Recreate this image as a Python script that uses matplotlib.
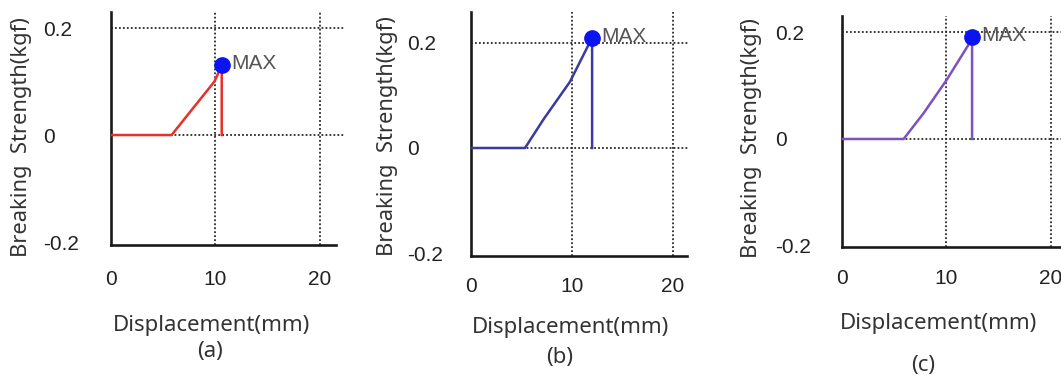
import matplotlib
matplotlib.use('Agg')
import matplotlib.pyplot as plt

# data
a_x = [0, 5.8, 9.9, 10.6, 10.6]
a_y = [0, 0, 0.1, 0.13, 0]
b_x = [0, 5.35, 7.2, 9.8, 12.0, 12.0]
b_y = [0, 0, 0.055, 0.126, 0.21, 0]
c_x = [0, 5.9, 7.8, 10.0, 12.1, 12.45, 12.45]
c_y = [0, 0, 0.048, 0.11, 0.176, 0.19, 0]
max_x = [10.6, 12.0, 12.4]
max_y = [0.13, 0.21, 0.19]
xticks = [0, 10, 20]
yticks = [-0.2, 0, 0.2]
ytick_labels = ['-0.2', '0', '0.2']
names = ['(a)', '(b)', '(c)']
colors = ['#e8302a', '#3a3aa0', '#7b52c0']

W, H = 1061, 376
fig = plt.figure(figsize=(W / 100, H / 100), dpi=100)

# pixel boxes: left, right, top, bottom, and axis limits
boxes = [(111, 345, 12, 245), (471, 688, 12, 256), (842, 1061, 16, 247)]
lims = [((0, 22.4), (-0.2056, 0.23)), ((0, 21.5), (-0.2057, 0.259)), ((0, 20.96), (-0.202, 0.23))]
spine_end = [21.5, 21.4, 21.0]
xpad = [18, 15, 15.5]
ylab_x = [22, 388, 752]
ylab_y = [137, 136, 138]
xlab_y = [326, 327, 323]
sub_x = [210, 560, 923]
sub_y = [352, 357, 366]
ytl_pad = [49, 46, 48]
lines = [(a_x, a_y), (b_x, b_y), (c_x, c_y)]

for i in range(3):
    l, r, t, b = boxes[i]
    ax = fig.add_axes([l / W, (H - b) / H, (r - l) / W, (b - t) / H])
    ax.set_xlim(*lims[i][0])
    ax.set_ylim(*lims[i][1])
    for s in ['top', 'right']:
        ax.spines[s].set_visible(False)
    for s in ['left', 'bottom']:
        ax.spines[s].set_linewidth(1.9)
        ax.spines[s].set_color('#1a1a1a')
    ax.spines['bottom'].set_bounds(0, spine_end[i])
    for yv in [0, 0.2]:
        ax.axhline(yv, color='#2a2a2a', lw=1.3, ls=(0, (1, 1.2)), zorder=1)
    for xv in [10, 20]:
        ax.axvline(xv, color='#2a2a2a', lw=1.3, ls=(0, (1, 1.2)), zorder=1)
    x, y = lines[i]
    ax.plot(x, y, color=colors[i], lw=1.8, zorder=3)
    ax.plot(max_x[i], max_y[i], 'o', color='#0a14f0', ms=11, zorder=4)
    ax.text(max_x[i] + 0.9, max_y[i] + 0.003, 'MAX', color='#555555', fontsize=15,
            family='Liberation Sans', va='center', ha='left', zorder=5)
    ax.set_xticks(xticks)
    ax.set_xticklabels([str(v) for v in xticks], family='Liberation Sans', fontsize=15,
                       color='#222222')
    ax.set_yticks(yticks)
    ax.set_yticklabels(ytick_labels, family='Liberation Sans', fontsize=15, color='#222222',
                       ha='left')
    ax.tick_params(axis='x', length=0, pad=xpad[i])
    ax.tick_params(axis='y', length=0, pad=ytl_pad[i])
    ax.set_facecolor('none')
    fig.text(ylab_x[i] / W, 1 - ylab_y[i] / H, 'Breaking  Strength(kgf)', rotation=90,
             ha='center', va='center', fontsize=15.8, family='Noto Sans', color='#333333')
    fig.text((l + 100) / W if i < 2 else (l + 97) / W, 1 - xlab_y[i] / H, 'Displacement(mm)',
             ha='center', va='center', fontsize=16, family='Noto Sans', color='#333333')
    fig.text(sub_x[i] / W, 1 - sub_y[i] / H, names[i], ha='center', va='center',
             fontsize=16, family='Noto Sans', color='#333333')

fig.savefig('out.png', dpi=100)
